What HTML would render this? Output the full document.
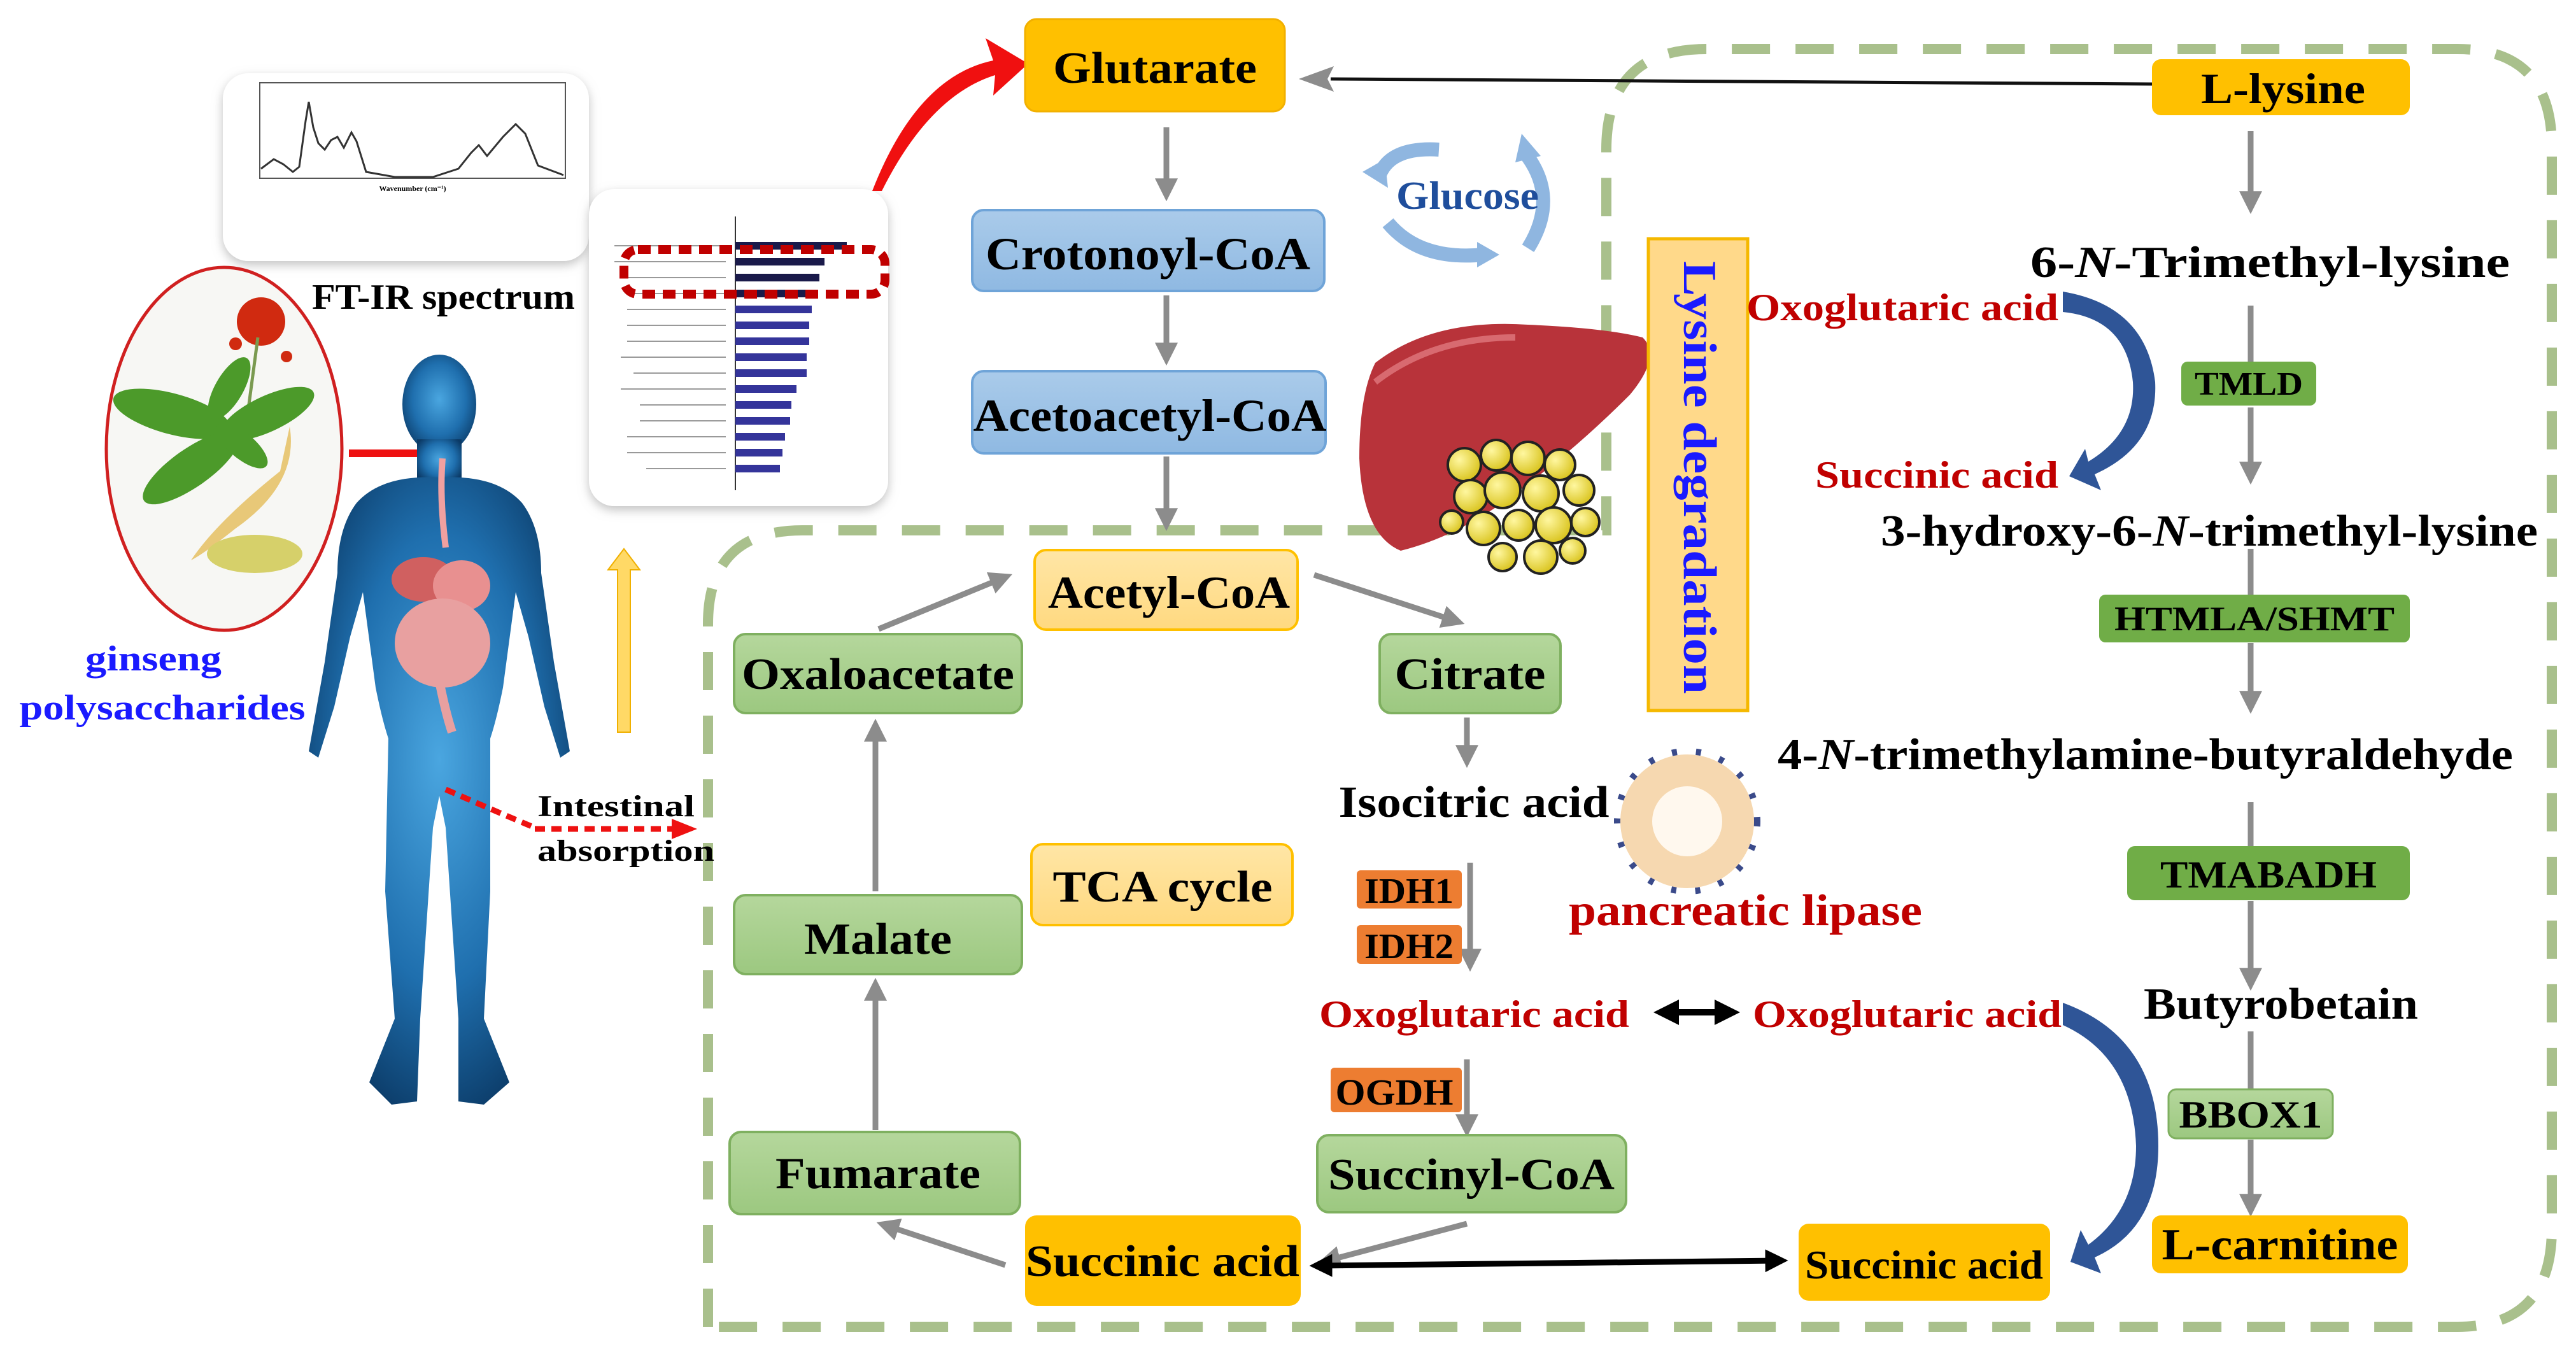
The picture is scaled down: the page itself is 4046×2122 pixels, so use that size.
<!DOCTYPE html>
<html><head><meta charset="utf-8"><style>
html,body{margin:0;padding:0;background:#fff}
svg{display:block}
text{font-family:"Liberation Serif",serif;font-weight:bold}
</style></head><body>
<svg width="4046" height="2122" viewBox="0 0 4046 2122" xmlns="http://www.w3.org/2000/svg">
<defs>
<linearGradient id="gB" x1="0" y1="0" x2="0" y2="1"><stop offset="0" stop-color="#aacbea"/><stop offset="1" stop-color="#8fb9e2"/></linearGradient>
<linearGradient id="gG" x1="0" y1="0" x2="0" y2="1"><stop offset="0" stop-color="#b5d79c"/><stop offset="1" stop-color="#9cc880"/></linearGradient>
<linearGradient id="gY" x1="0" y1="0" x2="0" y2="1"><stop offset="0" stop-color="#ffe6a6"/><stop offset="1" stop-color="#ffd980"/></linearGradient>
<radialGradient id="body" cx="0.5" cy="0.45" r="0.6"><stop offset="0" stop-color="#4aa6e0"/><stop offset="0.6" stop-color="#1f6fae"/><stop offset="1" stop-color="#0b3a66"/></radialGradient>
<radialGradient id="fat" cx="0.35" cy="0.35" r="0.7"><stop offset="0" stop-color="#fff7a0"/><stop offset="1" stop-color="#d8c21a"/></radialGradient>
<marker id="ag" markerWidth="4" markerHeight="4" refX="2.2" refY="2" orient="auto" markerUnits="strokeWidth"><path d="M0,0 L4,2 L0,4 Z" fill="#8c8c8c"/></marker>
<marker id="ab" markerWidth="4" markerHeight="4" refX="2.5" refY="2" orient="auto-start-reverse" markerUnits="strokeWidth"><path d="M0,0 L4,2 L0,4 Z" fill="#000"/></marker>
<filter id="sh" x="-10%" y="-10%" width="120%" height="130%"><feDropShadow dx="0" dy="6" stdDeviation="8" flood-color="#999" flood-opacity="0.6"/></filter>
</defs>

<!-- dashed frame -->
<path d="M1112,2084 L1112,980 Q1112,833 1260,833 L2523,833 L2523,235 Q2523,77 2680,77 L3860,77 Q4008,77 4008,230 L4008,1930 Q4008,2084 3860,2084 Z" fill="none" stroke="#a9c08c" stroke-width="16" stroke-dasharray="60 40"/>

<!-- FT-IR card -->
<rect x="350" y="115" width="575" height="295" rx="40" fill="#fff" filter="url(#sh)"/>
<rect x="408" y="130" width="480" height="150" fill="none" stroke="#555" stroke-width="2"/>
<path d="M410,265 L430,250 445,258 460,270 470,262 480,190 485,160 492,200 500,225 510,235 520,220 530,215 540,232 552,208 560,222 575,270 620,278 680,278 720,265 740,240 752,228 765,245 790,215 810,195 825,210 845,260 885,275" fill="none" stroke="#333" stroke-width="3"/>
<text x="648" y="300" font-size="12" text-anchor="middle" font-weight="normal">Wavenumber (cm⁻¹)</text>
<text x="490" y="485" font-size="56" textLength="413" lengthAdjust="spacingAndGlyphs">FT-IR spectrum</text>

<!-- chart card -->
<rect x="925" y="297" width="470" height="498" rx="40" fill="#fff" filter="url(#sh)"/>
<line x1="1155" y1="340" x2="1155" y2="770" stroke="#333" stroke-width="2"/>
<g fill="#1a1a4a"><rect x="1155" y="380" width="175" height="12"/><rect x="1155" y="405" width="140" height="12"/><rect x="1155" y="430" width="132" height="12"/><rect x="1155" y="455" width="125" height="12"/></g>
<g fill="#34349a"><rect x="1155" y="480" width="120" height="12"/><rect x="1155" y="505" width="116" height="12"/><rect x="1155" y="530" width="116" height="12"/><rect x="1155" y="555" width="112" height="12"/><rect x="1155" y="580" width="112" height="12"/><rect x="1155" y="605" width="96" height="12"/><rect x="1155" y="630" width="88" height="12"/><rect x="1155" y="655" width="86" height="12"/><rect x="1155" y="680" width="78" height="12"/><rect x="1155" y="705" width="74" height="12"/><rect x="1155" y="730" width="70" height="12"/></g>
<g stroke="#999" stroke-width="2"><line x1="965" y1="386" x2="1140" y2="386"/><line x1="965" y1="411" x2="1140" y2="411"/><line x1="985" y1="436" x2="1140" y2="436"/><line x1="985" y1="461" x2="1140" y2="461"/><line x1="985" y1="486" x2="1140" y2="486"/><line x1="985" y1="511" x2="1140" y2="511"/><line x1="985" y1="536" x2="1140" y2="536"/><line x1="975" y1="561" x2="1140" y2="561"/><line x1="995" y1="586" x2="1140" y2="586"/><line x1="975" y1="611" x2="1140" y2="611"/><line x1="1005" y1="636" x2="1140" y2="636"/><line x1="1005" y1="661" x2="1140" y2="661"/><line x1="985" y1="686" x2="1140" y2="686"/><line x1="985" y1="711" x2="1140" y2="711"/><line x1="1015" y1="736" x2="1140" y2="736"/></g>
<rect x="980" y="392" width="410" height="70" rx="22" fill="none" stroke="#c00000" stroke-width="14" stroke-dasharray="20 12"/>

<!-- red curved arrow -->
<path d="M1370,300 Q1440,120 1560,95 L1548,60 L1615,100 L1560,150 L1563,118 Q1460,150 1385,300 Z" fill="#f01010"/>

<!-- ginseng -->
<ellipse cx="352" cy="705" rx="185" ry="285" fill="#f7f7f4" stroke="#d02020" stroke-width="5"/>
<circle cx="410" cy="505" r="38" fill="#d02a10"/><circle cx="370" cy="540" r="10" fill="#d02a10"/><circle cx="450" cy="560" r="9" fill="#d02a10"/>
<line x1="405" y1="530" x2="385" y2="680" stroke="#7a9a50" stroke-width="5"/>
<g fill="#4c9a2a"><ellipse cx="270" cy="650" rx="95" ry="32" transform="rotate(15 270 650)"/><ellipse cx="300" cy="735" rx="90" ry="30" transform="rotate(-35 300 735)"/><ellipse cx="420" cy="650" rx="80" ry="28" transform="rotate(-25 420 650)"/><ellipse cx="360" cy="610" rx="55" ry="22" transform="rotate(-60 360 610)"/><ellipse cx="380" cy="700" rx="50" ry="20" transform="rotate(40 380 700)"/></g>
<path d="M455,670 Q470,760 370,830 Q320,870 300,880 Q340,820 440,740 Z" fill="#e8c878"/>
<ellipse cx="400" cy="870" rx="75" ry="30" fill="#d6d06a"/>
<text x="241" y="1053" font-size="56" fill="#1a1aff" text-anchor="middle" textLength="214" lengthAdjust="spacingAndGlyphs">ginseng</text>
<text x="255" y="1130" font-size="56" fill="#1a1aff" text-anchor="middle" textLength="449" lengthAdjust="spacingAndGlyphs">polysaccharides</text>
<line x1="548" y1="712" x2="668" y2="712" stroke="#ee1111" stroke-width="12"/>

<!-- human -->
<g fill="url(#body)">
<ellipse cx="690" cy="635" rx="58" ry="78"/>
<rect x="655" y="690" width="70" height="70"/>
<path d="M560,790 Q600,745 690,750 Q780,745 820,790 Q850,830 850,900 L870,1040 L895,1180 L880,1190 L855,1110 L830,1000 L810,930 L790,1080 Q780,1130 770,1160 L770,1400 L760,1600 L800,1700 L760,1735 L720,1730 L720,1600 L700,1300 L690,1250 L680,1300 L660,1600 L655,1730 L615,1735 L580,1700 L620,1600 L605,1400 L610,1160 Q600,1130 590,1080 L570,930 L550,1000 L525,1110 L500,1190 L485,1180 L510,1040 L530,900 Q530,830 560,790 Z"/>
</g>
<path d="M695,720 Q690,780 700,860" stroke="#f0a0a0" stroke-width="10" fill="none"/>
<ellipse cx="665" cy="910" rx="50" ry="35" fill="#d06060"/><ellipse cx="725" cy="920" rx="45" ry="40" fill="#e89090"/>
<ellipse cx="695" cy="1010" rx="75" ry="70" fill="#e8a0a0"/>
<path d="M690,1070 Q700,1120 710,1150" stroke="#e8a0a0" stroke-width="14" fill="none"/>
<path d="M700,1240 Q780,1275 840,1300" stroke="#ee1111" stroke-width="9" stroke-dasharray="16 10" fill="none"/>
<line x1="840" y1="1302" x2="1060" y2="1302" stroke="#ee1111" stroke-width="9" stroke-dasharray="16 10"/>
<path d="M1055,1286 L1095,1302 L1055,1318 Z" fill="#ee1111"/>
<text x="844" y="1282" font-size="48" textLength="247" lengthAdjust="spacingAndGlyphs">Intestinal</text>
<text x="844" y="1352" font-size="48" textLength="278" lengthAdjust="spacingAndGlyphs">absorption</text>
<!-- yellow up arrow -->
<path d="M970,1150 L970,895 L955,895 L980,862 L1005,895 L990,895 L990,1150 Z" fill="#ffd966" stroke="#f0b000" stroke-width="2"/>

<!-- grey arrows -->
<g stroke="#8c8c8c" stroke-width="9" fill="none" marker-end="url(#ag)">
<line x1="1832" y1="200" x2="1832" y2="300"/>
<line x1="1832" y1="464" x2="1832" y2="558"/>
<line x1="1832" y1="717" x2="1832" y2="818"/>
<line x1="1380" y1="988" x2="1575" y2="908"/>
<line x1="2064" y1="903" x2="2285" y2="975"/>
<line x1="2304" y1="1127" x2="2304" y2="1190"/>
<line x1="2309" y1="1355" x2="2309" y2="1510"/>
<line x1="2304" y1="1664" x2="2304" y2="1770"/>
<line x1="2304" y1="1922" x2="2085" y2="1980"/>
<line x1="1579" y1="1987" x2="1392" y2="1925"/>
<line x1="1375" y1="1775" x2="1375" y2="1552"/>
<line x1="1375" y1="1400" x2="1375" y2="1145"/>
<line x1="3535" y1="206" x2="3535" y2="320"/>
<line x1="3535" y1="640" x2="3535" y2="745"/>
<line x1="3535" y1="1010" x2="3535" y2="1105"/>
<line x1="3535" y1="1415" x2="3535" y2="1540"/>
<line x1="3535" y1="1790" x2="3535" y2="1895"/>
</g>
<g stroke="#8c8c8c" stroke-width="9"><line x1="3535" y1="480" x2="3535" y2="568"/><line x1="3535" y1="862" x2="3535" y2="934"/><line x1="3535" y1="1260" x2="3535" y2="1329"/><line x1="3535" y1="1620" x2="3535" y2="1711"/></g>
<line x1="3380" y1="132" x2="2090" y2="124" stroke="#111" stroke-width="5"/>
<path d="M2040,124 L2095,104 L2085,124 L2095,144 Z" fill="#8c8c8c"/>

<!-- black double arrows -->
<line x1="2070" y1="1988" x2="2795" y2="1980" stroke="#000" stroke-width="9" marker-start="url(#ab)" marker-end="url(#ab)"/>
<line x1="2612" y1="1590" x2="2718" y2="1590" stroke="#000" stroke-width="10" marker-start="url(#ab)" marker-end="url(#ab)"/>

<!-- blue curved arrows -->
<path d="M3240,458 Q3370,480 3385,600 Q3390,700 3290,745 L3300,770 L3250,748 L3275,705 L3280,725 Q3355,680 3350,600 Q3340,500 3240,490 Z" fill="#2f5597"/>
<path d="M3240,1575 Q3390,1630 3390,1800 Q3390,1930 3290,1975 L3300,2000 L3252,1982 L3268,1932 L3280,1955 Q3355,1900 3355,1800 Q3350,1660 3240,1610 Z" fill="#2f5597"/>

<!-- glucose -->
<path d="M2260,235 Q2180,230 2165,280" stroke="#8fb6e0" stroke-width="22" fill="none"/><path d="M2140,270 L2175,250 L2180,295 Z" fill="#8fb6e0"/>
<path d="M2180,350 Q2230,410 2330,400" stroke="#8fb6e0" stroke-width="22" fill="none"/><path d="M2320,380 L2355,400 L2320,420 Z" fill="#8fb6e0"/>
<path d="M2400,390 Q2450,310 2395,240" stroke="#8fb6e0" stroke-width="22" fill="none"/><path d="M2380,255 L2390,210 L2420,245 Z" fill="#8fb6e0"/>
<text x="2193" y="328" font-size="62" fill="#1f4e9c" textLength="224" lengthAdjust="spacingAndGlyphs">Glucose</text>

<!-- liver -->
<path d="M2160,570 Q2250,500 2400,510 Q2520,515 2580,530 Q2610,560 2560,620 Q2480,700 2400,760 Q2300,840 2200,865 Q2140,840 2135,720 Q2135,620 2160,570 Z" fill="#b8333a"/>
<path d="M2160,600 Q2250,530 2380,530" stroke="#d86a70" stroke-width="10" fill="none"/>
<g fill="url(#fat)" stroke="#222" stroke-width="4">
<circle cx="2300" cy="730" r="26"/><circle cx="2350" cy="715" r="24"/><circle cx="2400" cy="720" r="26"/><circle cx="2450" cy="730" r="24"/><circle cx="2480" cy="770" r="24"/><circle cx="2310" cy="780" r="26"/><circle cx="2360" cy="770" r="28"/><circle cx="2420" cy="775" r="28"/><circle cx="2330" cy="830" r="26"/><circle cx="2385" cy="825" r="24"/><circle cx="2440" cy="825" r="28"/><circle cx="2490" cy="820" r="22"/><circle cx="2360" cy="875" r="22"/><circle cx="2420" cy="875" r="26"/><circle cx="2470" cy="865" r="20"/><circle cx="2280" cy="820" r="18"/>
</g>

<!-- lipase micelle -->
<circle cx="2650" cy="1290" r="105" fill="#f6d8b0"/>
<circle cx="2650" cy="1290" r="55" fill="#fff8ee"/>
<circle cx="2650" cy="1290" r="110" fill="none" stroke="#3a4a8a" stroke-width="10" stroke-dasharray="8 30"/>

<!-- lysine degradation box -->
<rect x="2589" y="375" width="156" height="741" fill="#ffd98a" stroke="#f5b800" stroke-width="5"/>
<text transform="translate(2645,410) rotate(90)" font-size="74" fill="#1a1aff" textLength="680" lengthAdjust="spacingAndGlyphs">Lysine degradation</text>

<!-- boxes -->
<rect x="1610" y="30" width="408" height="145" rx="18" fill="#ffc000" stroke="#f2b000" stroke-width="3"/>
<text x="1814" y="130" font-size="70" text-anchor="middle" textLength="320" lengthAdjust="spacingAndGlyphs">Glutarate</text>
<rect x="3380" y="93" width="405" height="88" rx="14" fill="#ffc000"/>
<text x="3586" y="162" font-size="68" text-anchor="middle" textLength="258" lengthAdjust="spacingAndGlyphs">L-lysine</text>
<rect x="1527" y="330" width="553" height="127" rx="18" fill="url(#gB)" stroke="#6fa4d8" stroke-width="4"/>
<text x="1803" y="423" font-size="72" text-anchor="middle" textLength="510" lengthAdjust="spacingAndGlyphs">Crotonoyl-CoA</text>
<rect x="1527" y="583" width="555" height="129" rx="18" fill="url(#gB)" stroke="#6fa4d8" stroke-width="4"/>
<text x="1806" y="677" font-size="72" text-anchor="middle" textLength="555" lengthAdjust="spacingAndGlyphs">Acetoacetyl-CoA</text>
<rect x="1625" y="864" width="413" height="125" rx="18" fill="url(#gY)" stroke="#ffc000" stroke-width="4"/>
<text x="1836" y="955" font-size="72" text-anchor="middle" textLength="380" lengthAdjust="spacingAndGlyphs">Acetyl-CoA</text>
<rect x="1153" y="996" width="452" height="124" rx="18" fill="url(#gG)" stroke="#7fb060" stroke-width="4"/>
<text x="1379" y="1082" font-size="70" text-anchor="middle" textLength="428" lengthAdjust="spacingAndGlyphs">Oxaloacetate</text>
<rect x="2167" y="996" width="284" height="124" rx="18" fill="url(#gG)" stroke="#7fb060" stroke-width="4"/>
<text x="2309" y="1082" font-size="70" text-anchor="middle" textLength="237" lengthAdjust="spacingAndGlyphs">Citrate</text>
<text x="2315" y="1283" font-size="70" text-anchor="middle" textLength="425" lengthAdjust="spacingAndGlyphs">Isocitric acid</text>
<rect x="1620" y="1326" width="410" height="127" rx="18" fill="url(#gY)" stroke="#ffc000" stroke-width="4"/>
<text x="1826" y="1416" font-size="70" text-anchor="middle" textLength="345" lengthAdjust="spacingAndGlyphs">TCA cycle</text>
<rect x="1153" y="1406" width="452" height="124" rx="18" fill="url(#gG)" stroke="#7fb060" stroke-width="4"/>
<text x="1379" y="1498" font-size="70" text-anchor="middle" textLength="232" lengthAdjust="spacingAndGlyphs">Malate</text>
<rect x="1146" y="1778" width="456" height="129" rx="18" fill="url(#gG)" stroke="#7fb060" stroke-width="4"/>
<text x="1379" y="1866" font-size="70" text-anchor="middle" textLength="322" lengthAdjust="spacingAndGlyphs">Fumarate</text>
<rect x="2069" y="1783" width="485" height="121" rx="18" fill="url(#gG)" stroke="#7fb060" stroke-width="4"/>
<text x="2311" y="1868" font-size="70" text-anchor="middle" textLength="450" lengthAdjust="spacingAndGlyphs">Succinyl-CoA</text>
<rect x="1610" y="1909" width="433" height="142" rx="18" fill="#ffc000"/>
<text x="1826" y="2004" font-size="70" text-anchor="middle" textLength="430" lengthAdjust="spacingAndGlyphs">Succinic acid</text>
<rect x="2825" y="1922" width="395" height="121" rx="16" fill="#ffc000"/>
<text x="3022" y="2008" font-size="64" text-anchor="middle" textLength="374" lengthAdjust="spacingAndGlyphs">Succinic acid</text>
<rect x="3380" y="1909" width="402" height="91" rx="14" fill="#ffc000"/>
<text x="3581" y="1978" font-size="70" text-anchor="middle" textLength="371" lengthAdjust="spacingAndGlyphs">L-carnitine</text>

<!-- enzymes -->
<rect x="3426" y="568" width="212" height="69" rx="10" fill="#70ad47"/>
<text x="3532" y="620" font-size="52" text-anchor="middle" textLength="170" lengthAdjust="spacingAndGlyphs">TMLD</text>
<rect x="3297" y="934" width="488" height="75" rx="10" fill="#70ad47"/>
<text x="3541" y="990" font-size="54" text-anchor="middle" textLength="440" lengthAdjust="spacingAndGlyphs">HTMLA/SHMT</text>
<rect x="3341" y="1329" width="444" height="85" rx="12" fill="#70ad47"/>
<text x="3563" y="1394" font-size="60" text-anchor="middle" textLength="340" lengthAdjust="spacingAndGlyphs">TMABADH</text>
<rect x="3406" y="1711" width="258" height="77" rx="12" fill="url(#gG)" stroke="#7fb060" stroke-width="3"/>
<text x="3535" y="1771" font-size="60" text-anchor="middle" textLength="225" lengthAdjust="spacingAndGlyphs">BBOX1</text>
<rect x="2131" y="1367" width="165" height="60" rx="6" fill="#ed7d31"/>
<text x="2213" y="1418" font-size="56" text-anchor="middle" textLength="140" lengthAdjust="spacingAndGlyphs">IDH1</text>
<rect x="2131" y="1453" width="165" height="61" rx="6" fill="#ed7d31"/>
<text x="2213" y="1505" font-size="56" text-anchor="middle" textLength="140" lengthAdjust="spacingAndGlyphs">IDH2</text>
<rect x="2090" y="1677" width="206" height="70" rx="6" fill="#ed7d31"/>
<text x="2190" y="1735" font-size="58" text-anchor="middle" textLength="185" lengthAdjust="spacingAndGlyphs">OGDH</text>

<!-- right pathway text -->
<text x="3189" y="435" font-size="70" textLength="753" lengthAdjust="spacingAndGlyphs">6-<tspan font-style="italic">N</tspan>-Trimethyl-lysine</text>
<text x="2954" y="857" font-size="70" textLength="1032" lengthAdjust="spacingAndGlyphs">3-hydroxy-6-<tspan font-style="italic">N</tspan>-trimethyl-lysine</text>
<text x="2792" y="1208" font-size="70" textLength="1155" lengthAdjust="spacingAndGlyphs">4-<tspan font-style="italic">N</tspan>-trimethylamine-butyraldehyde</text>
<text x="3367" y="1600" font-size="70" textLength="431" lengthAdjust="spacingAndGlyphs">Butyrobetain</text>

<!-- red labels -->
<g fill="#c00000" font-size="60">
<text x="2743" y="503" textLength="490" lengthAdjust="spacingAndGlyphs">Oxoglutaric  acid</text>
<text x="2851" y="766" textLength="382" lengthAdjust="spacingAndGlyphs">Succinic  acid</text>
<text x="2072" y="1613" textLength="487" lengthAdjust="spacingAndGlyphs">Oxoglutaric  acid</text>
<text x="2753" y="1613" textLength="485" lengthAdjust="spacingAndGlyphs">Oxoglutaric  acid</text>
<text x="2464" y="1453" font-size="70" textLength="555" lengthAdjust="spacingAndGlyphs">pancreatic lipase</text>
</g>
</svg>
</body></html>
